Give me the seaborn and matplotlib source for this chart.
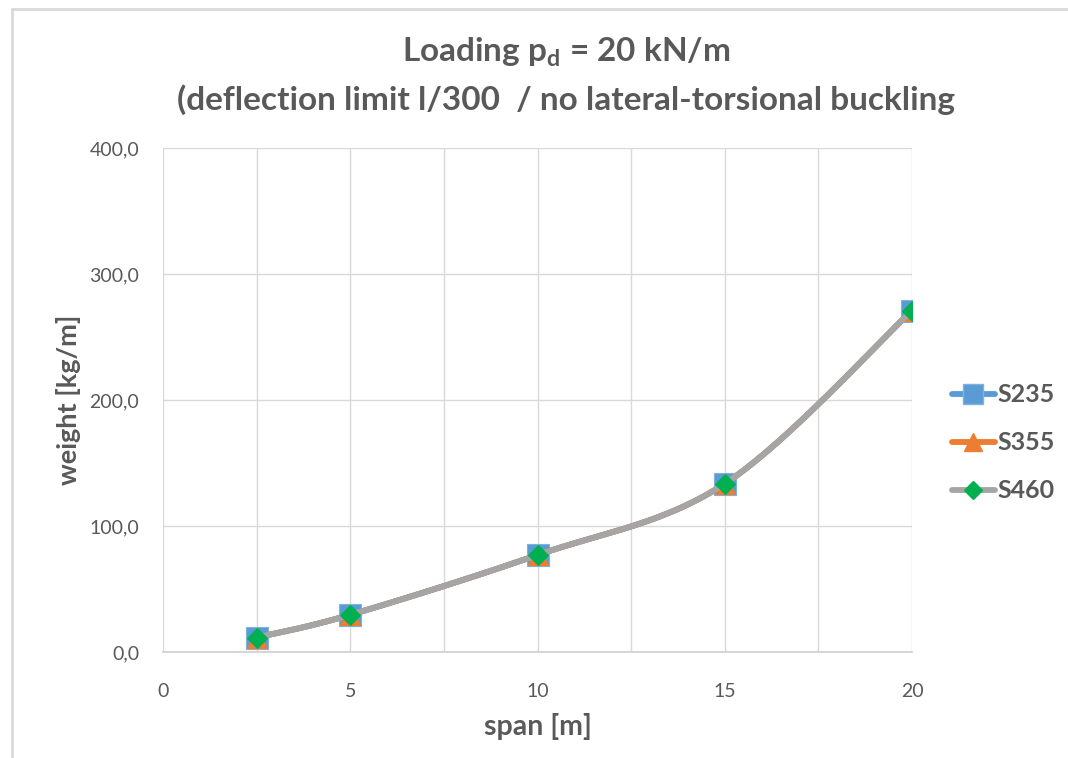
import numpy as np
import pandas as pd
import matplotlib
matplotlib.use("Agg")
import matplotlib.pyplot as plt
import seaborn as sns
from matplotlib.lines import Line2D

# ---- data ----
span = [2.5, 5, 10, 15, 20]
s235 = [11.5, 29.5, 77.0, 133.5, 271.0]
s355 = [11.5, 29.5, 77.0, 133.5, 271.0]
s460 = [11.5, 29.5, 77.0, 133.5, 271.0]
series_names = ["S235", "S355", "S460"]
x_ticks = [0, 5, 10, 15, 20]
y_ticks = [0, 100, 200, 300, 400]
y_ticklabels = ["0,0", "100,0", "200,0", "300,0", "400,0"]

sns.set_theme(style="white")
plt.rcParams['font.family'] = ['Lato', 'DejaVu Sans']
TXT = "#595959"

def smooth(x, y, n=40):
    # Excel-like Bezier smoothing (Catmull-Rom style control points)
    x = np.asarray(x, float); y = np.asarray(y, float)
    P = np.column_stack([x, y])
    Pp = np.vstack([P[0], P, P[-1]])
    out = []
    t = np.linspace(0, 1, n)[:, None]
    for i in range(len(P) - 1):
        p0, p1, p2, p3 = Pp[i], Pp[i + 1], Pp[i + 2], Pp[i + 3]
        c1 = p1 + (p2 - p0) / 6
        c2 = p2 - (p3 - p1) / 6
        seg = ((1 - t) ** 3) * p1 + 3 * ((1 - t) ** 2) * t * c1 + 3 * (1 - t) * t ** 2 * c2 + t ** 3 * p2
        out.append(seg if i == 0 else seg[1:])
    S = np.vstack(out)
    return S[:, 0], S[:, 1]

fig = plt.figure(figsize=(10.68, 7.58), dpi=100)
ax = fig.add_axes([163 / 1068, 1 - 652 / 758, (912 - 163) / 1068, (652 - 148) / 758])

styles = [
    dict(color="#5B9BD5", marker="s", ms=16, mfc="#5B9BD5", mec="#7FB2E0"),
    dict(color="#ED7D31", marker="^", ms=15, mfc="#ED7D31", mec="#ED7D31"),
    dict(color="#A5A5A5", marker="D", ms=10.5, mfc="#00B050", mec="#00B050"),
]
vals = [s235, s355, s460]
for i, (name, v, st) in enumerate(zip(series_names, vals, styles)):
    sx, sy = smooth(span, v)
    df_line = pd.DataFrame({"x": sx, "y": sy})
    sns.lineplot(data=df_line, x="x", y="y", ax=ax, color=st["color"], lw=4.2,
                 sort=False, zorder=2 + 2 * i, estimator=None)
    df_pts = pd.DataFrame({"x": span, "y": v})
    ax.plot(df_pts["x"], df_pts["y"], ls="none", marker=st["marker"], ms=st["ms"],
            mfc=st["mfc"], mec=st["mec"], mew=0.8, zorder=3 + 2 * i)

ax.set_xlim(0, 20)
ax.set_ylim(0, 400)
ax.set_xticks(np.arange(0, 20.1, 2.5), minor=False)
ax.set_xticklabels([str(int(t)) if t in x_ticks else "" for t in np.arange(0, 20.1, 2.5)])
ax.set_yticks(y_ticks)
ax.set_yticklabels(y_ticklabels)
ax.grid(True, color="#D9D9D9", lw=1.0)
ax.set_axisbelow(True)
for side in ["top", "right", "left"]:
    ax.spines[side].set_visible(False)
ax.spines["bottom"].set_color("#D0D0D0")
ax.tick_params(axis="both", length=0, labelsize=14, colors=TXT)
ax.tick_params(axis="x", pad=22)
ax.tick_params(axis="y", pad=17)
ax.set_xlabel("span [m]", fontsize=20.5, fontweight="bold", color=TXT, labelpad=10)
ax.set_ylabel("weight [kg/m]", fontsize=19.5, fontweight="bold", color=TXT, labelpad=6)

fig.text(0.53, 1 - 52 / 758, r"Loading p$_\mathregular{d}$ = 20 kN/m", ha="center", va="center",
         fontsize=24, fontweight="bold", color=TXT)
fig.text(0.53, 1 - 100 / 758, "(deflection limit l/300  / no lateral-torsional buckling", ha="center",
         va="center", fontsize=24, fontweight="bold", color=TXT)

handles = [
    Line2D([], [], color=styles[0]["color"], lw=4.2, marker="s", ms=14, mfc="#5B9BD5", mec="#7FB2E0"),
    Line2D([], [], color=styles[1]["color"], lw=4.2, marker="^", ms=13, mfc="#ED7D31", mec="#ED7D31"),
    Line2D([], [], color=styles[2]["color"], lw=4.2, marker="D", ms=9.5, mfc="#00B050", mec="#00B050"),
]
leg = fig.legend(handles, series_names, loc="center left", bbox_to_anchor=(952 / 1068, 1 - 443 / 758),
                 frameon=False, handlelength=1.7, handletextpad=0.1, labelspacing=1.0, borderpad=0,
                 borderaxespad=0, prop={"size": 18, "weight": "bold"})
for t in leg.get_texts():
    t.set_color(TXT)

# chart-area border
fig.add_artist(Line2D([12 / 1068, 12 / 1068], [0, 1 - 9 / 758], transform=fig.transFigure, color="#D9D9D9", lw=2))
fig.add_artist(Line2D([12 / 1068, 1], [1 - 9 / 758, 1 - 9 / 758], transform=fig.transFigure, color="#D9D9D9", lw=2))

fig.savefig("out.png", dpi=100)
